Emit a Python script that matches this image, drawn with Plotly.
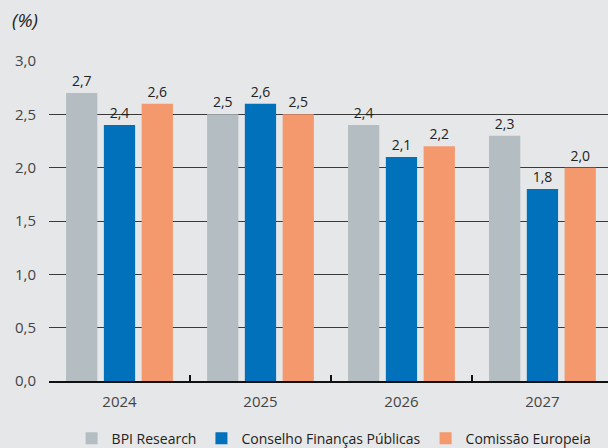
import plotly.graph_objects as go

years = ["2024", "2025", "2026", "2027"]
bpi = [2.7, 2.5, 2.4, 2.3]
cfp = [2.4, 2.6, 2.1, 1.8]
ce = [2.6, 2.5, 2.2, 2.0]

series = [
    ("BPI Research", bpi, "#b4bec2"),
    ("Conselho Finanças Públicas", cfp, "#0071ba"),
    ("Comissão Europeia", ce, "#f4986d"),
]

fig = go.Figure()
for name, vals, col in series:
    fig.add_trace(go.Bar(
        x=years, y=vals, name=name,
        marker=dict(color=col, line=dict(width=0)),
        texttemplate="%{y:.1f}", textposition="outside",
        textfont=dict(size=14, color="#222222"),
        cliponaxis=False,
    ))

fig.update_layout(
    width=608, height=448,
    paper_bgcolor="#e6e7e8", plot_bgcolor="#e6e7e8",
    font=dict(family="Open Sans, Noto Sans, sans-serif", color="#333333"),
    separators=",.",
    barmode="group", bargap=0.196, bargroupgap=0.173,
    margin=dict(l=49, r=0, t=61, b=67, autoexpand=False),
    showlegend=True,
    legend=dict(orientation="h", xref="paper", yref="paper",
                x=0.51, xanchor="center", y=-0.18, yanchor="middle",
                font=dict(size=14, color="#222222"),
                itemwidth=30, traceorder="normal"),
    annotations=[dict(text="<i>(%)</i>", xref="paper", yref="paper",
                      x=-0.07, y=1.128, xanchor="left", yanchor="middle",
                      showarrow=False, font=dict(size=19, color="#222222"))],
)
fig.update_yaxes(range=[0, 3.0], dtick=0.5, tickformat=".1f",
                 showgrid=True, gridcolor="#3a3a3a", gridwidth=1,
                 zeroline=False, ticks="", ticklabelstandoff=12,
                 tickfont=dict(size=15, color="#444444"))
fig.update_xaxes(range=[-0.5, 3.465],
                 showline=True, linecolor="#111111", linewidth=1.5,
                 ticks="inside", tickson="boundaries", ticklen=6,
                 tickcolor="#111111", tickwidth=1.5, ticklabelstandoff=6,
                 tickfont=dict(size=15, color="#444444"))

# drop the default body margin so the chart fills the window
fig.write_html("out.html", config={"displayModeBar": False},
               post_script="document.body.style.margin='0';")
